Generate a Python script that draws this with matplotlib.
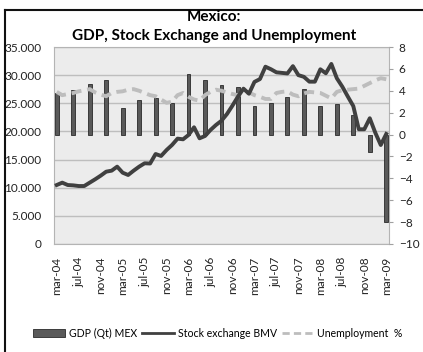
import matplotlib
matplotlib.use("Agg")
import matplotlib.pyplot as plt
from matplotlib.ticker import FuncFormatter
from matplotlib.lines import Line2D

plt.rcParams['font.family'] = ['Lato', 'DejaVu Sans']

# monthly, mar-04 .. mar-09
meses = ["mar-04", "jul-04", "nov-04", "mar-05", "jul-05", "nov-05", "mar-06", "jul-06",
         "nov-06", "mar-07", "jul-07", "nov-07", "mar-08", "jul-08", "nov-08", "mar-09"]

bolsa = [10480, 10900, 10480, 10420, 10300, 10300, 10900, 11500, 12140, 12850,
         13030, 13740, 12670, 12260, 13030, 13740, 14340, 14300, 15990, 15640,
         16700, 17600, 18720, 18600, 19370, 20740, 18780, 19190, 20260, 21150,
         21900, 23100, 24600, 26200, 27600, 26700, 28800, 29300, 31500, 31050,
         30500, 30400, 30300, 31600, 30000, 29700, 28840, 28840, 31040, 30330,
         31990, 29450, 27950, 26200, 24500, 20380, 20380, 22340, 19780, 17590, 19550]

desemprego = [3.9, 3.6, 3.7, 3.8, 3.95, 4.05, 4.15, 3.85, 3.65, 3.5,
              3.8, 3.9, 3.95, 4.1, 4.15, 4.0, 3.8, 3.6, 3.5, 3.2,
              2.9, 3.0, 3.6, 3.8, 3.45, 3.2, 3.1, 3.6, 3.9, 4.1,
              4.0, 3.85, 3.7, 3.6, 3.75, 3.85, 3.6, 3.45, 3.25, 3.25,
              3.8, 3.9, 3.95, 3.65, 3.5, 3.75, 3.9, 3.85, 3.8, 3.55,
              3.3, 3.9, 4.05, 4.1, 4.15, 4.2, 4.45, 4.7, 4.95, 5.15, 5.05]

# quarterly GDP growth, every 3rd month starting mar-04
pib = [3.8, 4.1, 4.6, 4.95, 2.4, 3.2, 3.35, 2.9, 5.55, 4.95, 4.55,
       4.3, 2.65, 2.9, 3.4, 4.2, 2.65, 2.75, 1.75, -1.6, -8.0]

x = list(range(len(bolsa)))
x_pib = list(range(0, len(bolsa), 3))
x_ticks = list(range(0, len(bolsa), 4))

fig = plt.figure(figsize=(4.23, 3.52), dpi=100)
pos = [54 / 423, 1 - 244 / 352, 335 / 423, 197 / 352]

ax = fig.add_axes(pos)
ax.set_facecolor("#ECECEC")
ax.set_xlim(-0.5, len(bolsa) - 0.5)
ax.set_ylim(0, 35000)
ax.set_yticks(range(0, 35001, 5000))
ax.yaxis.set_major_formatter(FuncFormatter(lambda v, p: f"{int(v):,}".replace(",", ".")))
ax.grid(axis="y", color="#BEBEBE", lw=1.0)
ax.set_axisbelow(True)
ax.tick_params(axis="y", length=0, pad=9, labelsize=8.5, colors="#222222")
ax.set_xticks(x_ticks)
ax.set_xticklabels(meses, rotation=90)
ax.tick_params(axis="x", length=0, pad=9, labelsize=8.5, colors="#222222")
for s in ax.spines.values():
    s.set_color("#B4B4B4")

ax2 = ax.twinx()
ax2.set_ylim(-10, 8)
ax2.set_yticks(range(-10, 9, 2))
ax2.tick_params(axis="y", length=3, width=0.8, color="#A0A0A0", pad=4,
                labelsize=8.5, labelcolor="#222222")
b = ax2.bar(x_pib, pib, width=0.7, color="#5A5A5A", edgecolor="#2A2A2A", lw=0.6,
            label="GDP (Qt) MEX")
l2, = ax2.plot(x, desemprego, color="#BDBDBD", lw=2.8, linestyle=(0, (2.6, 1.5)),
               label="Unemployment  %")
for s in ax2.spines.values():
    s.set_visible(False)

ax3 = ax.twinx()
ax3.set_ylim(0, 35000)
ax3.set_yticks([])
for s in ax3.spines.values():
    s.set_visible(False)
l1, = ax3.plot(x, bolsa, color="#404040", lw=2.8, label="Stock exchange BMV")

fig.text(0.506, 1 - 21 / 352, "Mexico:", ha="center", va="baseline",
         fontsize=11, fontweight="bold")
fig.text(0.506, 1 - 40 / 352, "GDP, Stock Exchange and Unemployment", ha="center",
         va="baseline", fontsize=11, fontweight="bold")

leg = fig.legend([b, l1, l2], ["GDP (Qt) MEX", "Stock exchange BMV", "Unemployment  %"],
                 loc="center", bbox_to_anchor=(218 / 423, 1 - 333 / 352), ncol=3,
                 frameon=False, fontsize=7.6, handlelength=3.0, handletextpad=0.35,
                 columnspacing=0.5)
for h in leg.legend_handles[1:]:
    h.set_linewidth(2.0)

# chart border (cut off at right and bottom)
fig.add_artist(Line2D([5 / 423, 5 / 423], [0, 1 - 10 / 352], color="#111111", lw=1.5))
fig.add_artist(Line2D([5 / 423, 1], [1 - 10 / 352, 1 - 10 / 352], color="#111111", lw=1.5))

plt.savefig("out.png", dpi=100)
